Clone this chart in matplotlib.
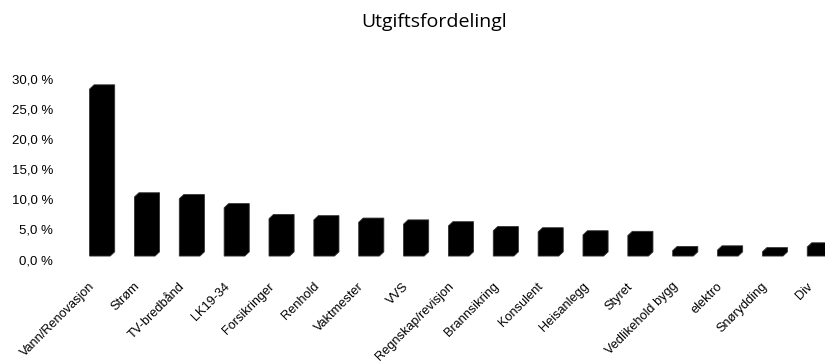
import matplotlib.pyplot as plt
from matplotlib.patches import Polygon

# Cost distribution per post, in percent
categories = ["Vann/Renovasjon", "Strøm", "TV-bredbånd", "LK19-34", "Forsikringer",
              "Renhold", "Vaktmester", "VVS", "Regnskap/revisjon", "Brannsikring",
              "Konsulent", "Heisanlegg", "Styret", "Vedlikehold bygg", "elektro",
              "Snørydding", "Div"]
shares = [27.7, 9.8, 9.5, 8.0, 6.2, 6.0, 5.6, 5.3, 5.0, 4.2, 4.0, 3.5, 3.4,
          0.9, 1.0, 0.7, 1.5]
yticks = [0, 5, 10, 15, 20, 25, 30]
ytick_labels = ["0,0 %", "5,0 %", "10,0 %", "15,0 %", "20,0 %", "25,0 %", "30,0 %"]

fig = plt.figure(figsize=(8.25, 3.61), dpi=100)
ax = fig.add_axes([0.0727, 0.274, 0.927, 0.532])

# pseudo-3D columns: front face plus a depth offset, filled as one hexagon
w = 0.46
dx, dy = 0.10, 0.70
for i, v in enumerate(shares):
    x0, x1 = i - w / 2, i + w / 2
    pts = [(x0, 0), (x1, 0), (x1 + dx, dy), (x1 + dx, v + dy),
           (x0 + dx, v + dy), (x0, v)]
    ax.add_patch(Polygon(pts, closed=True, facecolor="black",
                         edgecolor="#333333", linewidth=0.6))

ax.set_xlim(-0.89, 16.16)
ax.set_ylim(-1.0, 30.85)
ax.set_xticks([])
ax.set_yticks([])
for s in ax.spines.values():
    s.set_visible(False)

# value axis labels sit on the back wall, a little below the front floor
for t, lab in zip(yticks, ytick_labels):
    ax.annotate(lab, xy=(0, t), xycoords=("axes fraction", "data"),
                xytext=(-5, -3.6), textcoords="offset points",
                ha="right", va="center", fontsize=9.5, family="Liberation Sans",
                annotation_clip=False)

# category labels, slanted under each column
for i, cat in enumerate(categories):
    ax.annotate(cat, xy=(i, 0), xycoords="data",
                xytext=(-8, -17.5), textcoords="offset points",
                rotation=45, rotation_mode="anchor", ha="right", va="top",
                fontsize=9.2, family="Liberation Sans", annotation_clip=False)

fig.text(434 / 825, 1 - 22 / 361, "Utgiftsfordelingl", ha="center", va="center",
         fontsize=14, family="Open Sans")

fig.savefig("out.png", dpi=100)
